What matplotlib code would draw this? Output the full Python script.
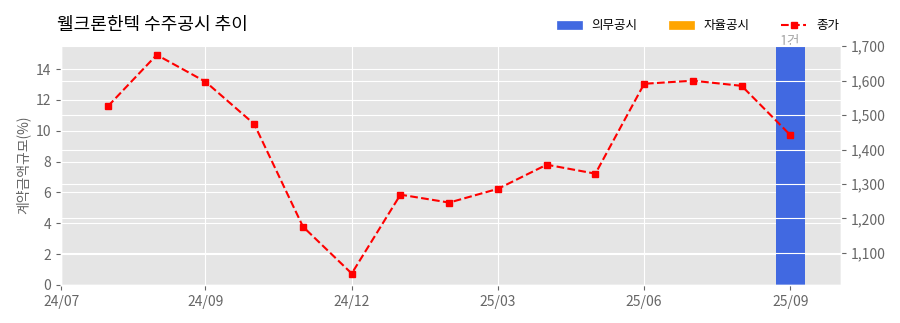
import numpy as np
from matplotlib import pyplot as plt
from matplotlib.ticker import FuncFormatter
from matplotlib.patches import Patch
from matplotlib.lines import Line2D

plt.style.use('ggplot')
plt.rcParams['font.family'] = ['Noto Sans CJK KR', 'DejaVu Sans']
plt.rcParams['axes.unicode_minus'] = False

title = '웰크론한텍 수주공시 추이'
months = ['24/07', '24/08', '24/09', '24/10', '24/11', '24/12', '25/01', '25/02',
          '25/03', '25/04', '25/05', '25/06', '25/07', '25/08', '25/09']
close_price = [1526, 1675, 1597, 1474, 1176, 1040, 1269, 1246,
               1286, 1356, 1330, 1591, 1600, 1585, 1442]
bar_month = ['25/09']
bar_value = [15.55]
bar_count = ['1건']
tick_labels = ['24/07', '24/09', '24/12', '25/03', '25/06', '25/09']

x = np.arange(len(months))
bar_x = [months.index(m) for m in bar_month]
tick_pos = [-0.96, 2, 5, 8, 11, 14]

fig, ax = plt.subplots(figsize=(9, 3.23), dpi=100)
fig.subplots_adjust(left=0.068, right=0.934, top=0.86, bottom=0.118)

ax.bar(bar_x, bar_value, width=0.6, color='royalblue', zorder=2)
for bx, bv, bc in zip(bar_x, bar_value, bar_count):
    ax.text(bx, bv - 0.25, bc, ha='center', va='bottom', fontsize=10, color='#aaaaaa')
ax.set_ylim(0, 15.55)
ax.set_xlim(-0.96, 15.03)
ax.set_xticks(tick_pos)
ax.set_xticklabels(tick_labels)
ax.set_ylabel('계약금액규모(%)', color='#666666', fontsize=10)
ax.tick_params(colors='#666666', labelsize=10)

ax2 = ax.twinx()
ax2.plot(x, close_price, color='red', ls='--', marker='s', markersize=5, lw=1.5)
ax2.set_ylim(1007, 1703)
ax2.yaxis.set_major_formatter(FuncFormatter(lambda v, p: f'{v:,.0f}'))
ax2.tick_params(colors='#666666', labelsize=10)
ax2.grid(True, color='white')

ax.set_title(title, loc='left', fontsize=13, pad=11, x=-0.005)

handles = [Patch(color='royalblue', label='의무공시'),
           Patch(color='orange', label='자율공시'),
           Line2D([], [], color='red', ls='--', marker='s', markersize=5, label='종가')]
fig.legend(handles=handles, loc='upper right', ncol=3, frameon=False, fontsize=9,
           bbox_to_anchor=(0.945, 0.975), columnspacing=2.5)

fig.savefig('out.png')
